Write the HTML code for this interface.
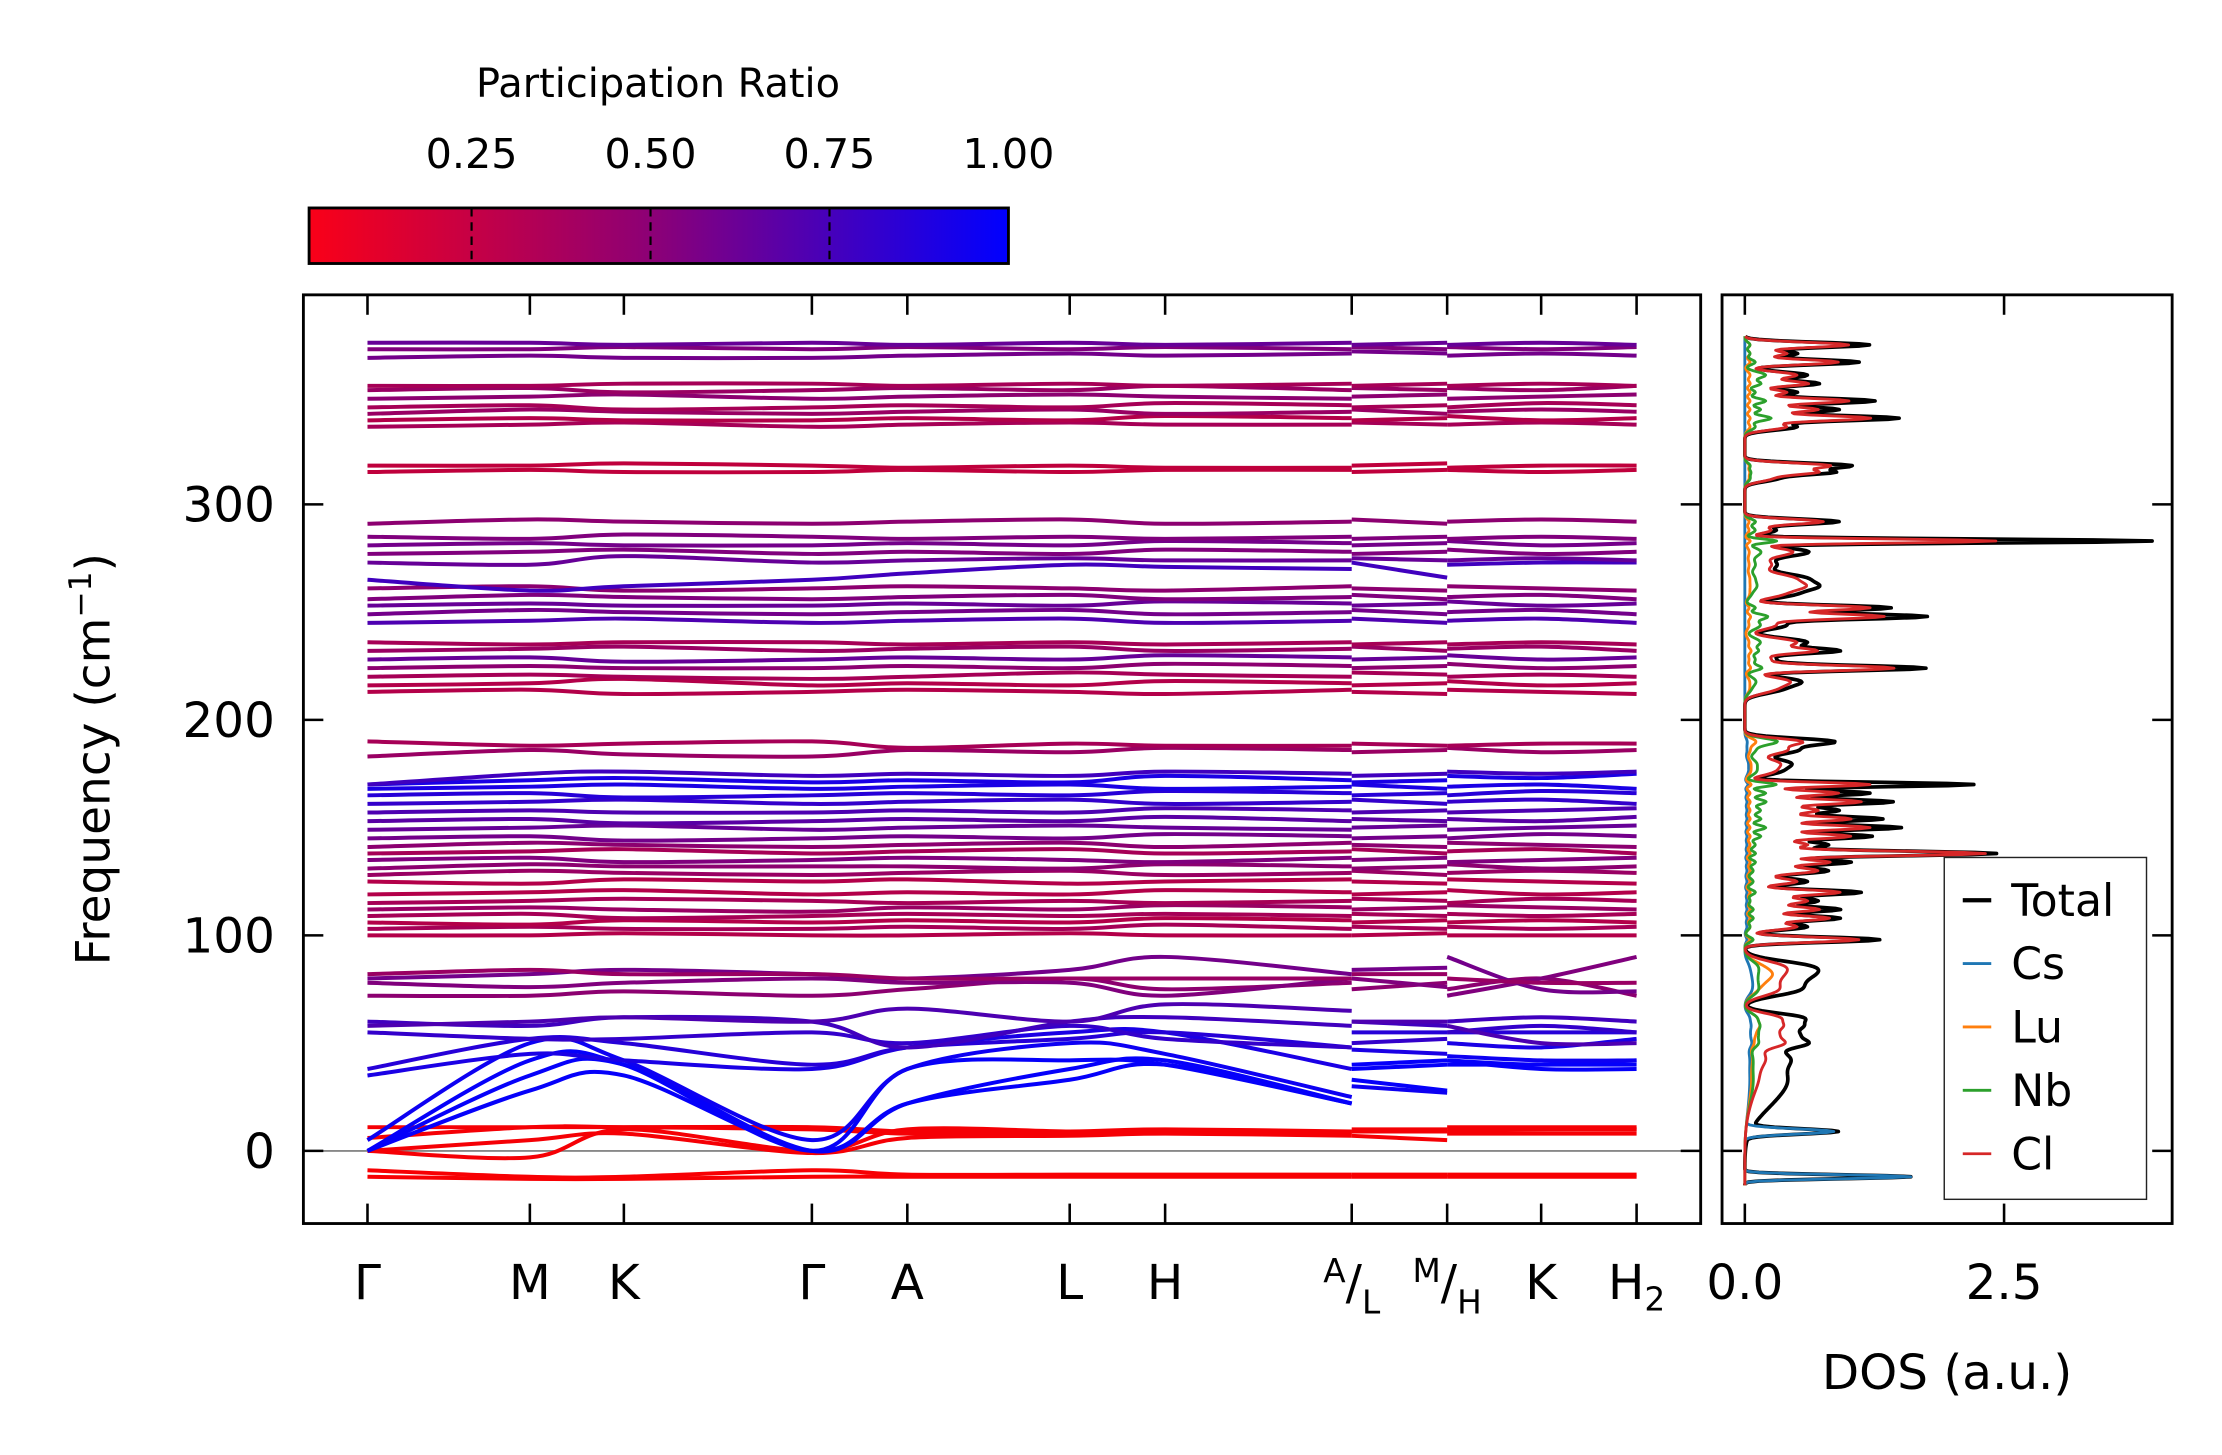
<!DOCTYPE html>
<html><head><meta charset="utf-8"><style>
html,body{margin:0;padding:0;background:#fff;}
svg{display:block;font-family:"DejaVu Sans","Liberation Sans",sans-serif;}
</style></head><body>
<svg id="fig" width="2222" height="1455" viewBox="0 0 1560 1021.5" xmlns="http://www.w3.org/2000/svg">
<defs>
<linearGradient id="cbg" x1="0" x2="1" y1="0" y2="0">
<stop offset="0" stop-color="#fa0018"/><stop offset="0.5" stop-color="#8a0078"/><stop offset="1" stop-color="#0000ff"/>
</linearGradient>
<clipPath id="clipMain"><rect x="213" y="207" width="981" height="652"/></clipPath>
<clipPath id="clipDos"><rect x="1209" y="207" width="316" height="652"/></clipPath>
</defs>
<g id="colorbar">
<text x="462" y="68" font-size="28" text-anchor="middle">Participation Ratio</text>
<rect x="217" y="146" width="491" height="39" fill="url(#cbg)" stroke="#000" stroke-width="2"/>
</g>
<g id="mainAxes"></g>
<g id="dosAxes"></g>
<text transform="translate(77,533) rotate(-90)" font-size="33" text-anchor="middle">Frequency (cm<tspan dy="-13" font-size="22">−1</tspan><tspan dy="13">)</tspan></text>
<text x="1367" y="975" font-size="34" text-anchor="middle">DOS (a.u.)</text>
</svg>
<script>
// ---- data ----
const kLabels = ["Γ","M","K","Γ","A","L","H","A/L","M/H","K","H2"];
const cbTicks = [0.25,0.50,0.75,1.00];
const yTicks = [0,100,200,300];
const dosTicks = [0.0,2.5];
// band values at nodes: Γ M K Γ A L H A | L M | H K H2
const bands = [
[-9,-12,-12,-9,-11,-11,-11,-11,-11,-11,-11,-11,-11],
[-12,-13,-13,-12,-12,-12,-12,-12,-12,-12,-12,-12,-12],
[0,5,8,-1,6,7,8,7,7,5,8,8,8],
[0,-3,10,0,10,9,9,9,9,9,10,10,10],
[6,11,11,10,8,8,9,8,9,9,9,10,10],
[11,11,11,11,9,9,10,9,10,10,11,11,11],
[0,28,35,0,22,33,40,22,33,28,40,40,40],
[0,35,40,0,22,38,42,22,38,40,42,38,38],
[0,42,40,0,38,42,40,22,40,42,42,40,42],
[5,50,42,5,38,50,45,25,30,27,44,42,42],
[35,45,42,38,48,55,55,38,47,45,50,48,52],
[38,52,50,40,48,52,55,48,55,55,55,55,55],
[55,52,52,55,50,58,52,48,50,52,55,58,55],
[60,58,62,60,48,60,62,58,60,58,60,62,60],
[58,60,62,60,66,60,68,65,60,60,58,50,50],
[72,72,74,72,75,80,75,78,75,78,75,80,72],
[78,76,78,80,78,78,72,80,80,76,72,80,90],
[80,82,84,82,80,84,90,82,84,85,90,75,74],
[82,84,82,82,80,80,80,80,82,82,80,78,78],
[100,100,101,100,100,101,100,100,100,101,100,100,100],
[103,104,103,103,104,103,105,103,104,103,104,103,104],
[106,105,107,106,107,106,108,107,106,107,106,107,106],
[109,110,108,109,110,109,110,109,110,109,110,109,110],
[112,113,112,111,113,112,114,113,112,113,114,113,112],
[115,116,117,116,115,116,115,116,117,116,115,117,116],
[119,120,121,119,120,119,121,120,119,120,121,119,120],
[125,124,126,125,126,124,125,126,125,124,126,125,124],
[128,130,129,128,129,130,128,129,130,128,129,130,129],
[131,133,132,132,132,131,133,132,131,132,133,131,132],
[135,136,134,135,136,135,134,136,135,136,134,135,136],
[138,139,140,138,139,140,138,139,140,138,139,140,138],
[141,143,142,141,142,143,141,143,142,141,143,142,141],
[145,146,144,145,146,145,147,146,145,146,145,147,146],
[149,150,151,149,150,151,150,149,150,151,149,150,151],
[153,154,152,153,154,153,155,153,154,153,154,153,155],
[157,158,157,157,158,157,159,158,157,158,157,158,159],
[161,162,163,161,162,163,161,162,163,161,162,163,161],
[165,166,164,165,166,165,167,166,165,166,165,167,166],
[168,169,170,168,169,170,168,169,170,168,169,170,168],
[170,172,173,171,172,171,174,172,171,172,174,173,175],
[170,175,176,174,175,174,176,175,174,175,176,175,176],
[183,186,184,183,186,185,187,186,185,186,187,185,186],
[190,188,189,190,187,189,188,188,189,188,188,189,189],
[213,214,212,213,214,213,212,214,213,212,214,213,212],
[216,217,219,216,217,216,218,217,216,217,218,216,217],
[220,221,220,219,220,222,221,220,222,221,220,221,220],
[224,225,224,224,225,224,226,225,224,225,226,224,225],
[228,229,227,228,229,228,230,229,228,229,230,228,229],
[232,233,234,232,233,234,232,233,234,232,233,234,232],
[236,235,236,236,235,236,235,236,235,236,235,236,235],
[245,246,247,245,246,247,245,246,247,245,246,247,245],
[249,251,250,249,250,251,249,250,251,249,250,251,249],
[253,254,253,253,254,253,255,254,253,254,255,253,254],
[256,258,257,256,257,258,256,257,258,256,257,258,256],
[261,262,260,261,262,261,260,262,261,260,262,261,260],
[265,260,262,265,268,272,271,270,273,266,272,273,273],
[273,272,276,273,274,275,274,274,275,274,274,275,274],
[277,278,279,277,278,277,279,278,277,278,279,277,278],
[281,282,281,281,282,281,283,282,281,282,283,281,282],
[285,284,286,285,284,285,284,285,284,285,284,285,284],
[291,293,292,291,292,293,291,292,293,291,292,293,292],
[315,316,315,315,316,315,316,316,315,316,316,315,316],
[318,318,319,318,317,318,317,317,318,319,317,318,318],
[336,337,338,336,337,338,337,337,338,337,337,338,337],
[339,340,339,339,340,339,341,340,339,340,341,339,340],
[342,344,343,342,343,344,342,343,344,342,343,344,343],
[345,346,344,345,346,345,347,346,345,346,345,347,346],
[349,350,351,349,350,351,350,349,350,351,349,350,351],
[353,354,352,353,354,353,355,353,354,353,354,353,355],
[355,355,356,356,355,356,355,356,355,356,355,356,355],
[368,369,368,368,369,370,369,370,371,370,369,370,369],
[372,372,373,372,373,372,373,372,373,372,373,372,373],
[375,375,374,375,374,375,374,375,374,375,374,375,374]
];
const bandPR = [
0.03,0.03,0.04,0.04,0.04,0.04,0.98,0.98,0.98,0.95,
0.9,0.85,0.8,0.75,0.7,0.45,0.5,0.55,0.4,
0.3,0.35,0.3,0.35,0.4,0.35,0.3,0.3,0.4,0.45,0.5,0.35,0.45,0.55,0.6,0.65,0.7,0.8,0.85,0.9,0.9,0.75,
0.4,0.35,
0.3,0.3,0.35,0.45,0.6,0.4,0.35,
0.7,0.55,0.6,0.5,0.45,0.75,0.6,0.5,0.55,0.5,0.45,
0.25,0.25,
0.35,0.3,0.4,0.35,0.45,0.4,0.35,
0.55,0.5,0.6
];
// DOS peaks
const peakFreq = [374,370,366,360,356,352,348,344,340,336,318,315,312,292,288,283,278,272,266,262,258,252,248,244,236,232,228,224,218,214,190,186,180,176,170,166,162,158,154,150,146,142,138,134,130,125,120,116,112,108,104,98,86,82,78,74,62,58,54,50,44,36,28,20,9,-12];
const totalH = [1.2,0.5,1.1,0.6,0.7,0.5,1.25,0.9,1.47,0.5,1.0,0.8,0.3,0.9,0.3,3.9,0.6,0.3,0.5,0.6,0.4,1.4,1.7,0.4,0.6,0.8,0.3,1.7,0.5,0.3,0.8,0.5,0.4,0.3,2.2,1.2,1.4,0.9,1.3,1.5,1.2,0.8,2.4,1.0,0.8,0.6,1.1,0.7,0.9,0.9,0.6,1.3,0.5,0.45,0.35,0.4,0.5,0.45,0.4,0.45,0.3,0.25,0.2,0.12,0.85,1.6];
const clH = [1.0,0.4,0.9,0.5,0.6,0.4,1.0,0.7,1.2,0.4,0.8,0.65,0.25,0.75,0.25,2.4,0.45,0.25,0.4,0.5,0.3,1.2,1.3,0.3,0.5,0.6,0.25,1.4,0.4,0.25,0.5,0.4,0.3,0.25,1.2,0.9,1.1,0.7,1.0,1.2,1.0,0.6,2.3,0.8,0.7,0.5,0.9,0.6,0.7,0.8,0.5,1.1,0.3,0.25,0.2,0.25,0.3,0.3,0.25,0.3,0.15,0.1,0.05,0.02,0.0,0.0];
const nbH = [0.05,0.05,0.1,0.2,0.15,0.1,0.2,0.15,0.25,0.1,0.05,0.05,0.05,0.1,0.1,0.3,0.15,0.1,0.08,0.1,0.05,0.1,0.2,0.15,0.15,0.1,0.1,0.15,0.1,0.05,0.3,0.1,0.1,0.1,0.3,0.2,0.2,0.15,0.15,0.2,0.15,0.1,0.1,0.1,0.08,0.08,0.1,0.05,0.08,0.08,0.05,0.08,0.1,0.08,0.08,0.1,0.1,0.12,0.1,0.1,0.05,0.05,0.04,0.02,0.0,0.0];
const csH = [0,0,0,0,0,0,0,0,0,0,0,0,0,0,0,0,0,0,0,0,0,0,0,0,0,0,0,0,0,0,0.02,0.02,0.03,0.03,0.03,0.02,0.02,0.02,0.02,0.02,0.02,0.02,0.02,0.02,0.02,0.02,0.02,0.02,0.02,0.02,0.02,0.02,0.03,0.04,0.05,0.05,0.04,0.05,0.04,0.05,0.03,0.03,0.02,0.02,0.85,1.6];
const luH = [0.05,0.05,0.05,0.05,0.05,0.05,0.05,0.05,0.05,0.05,0.04,0.04,0.04,0.04,0.04,0.05,0.04,0.04,0.04,0.04,0.04,0.04,0.05,0.04,0.04,0.05,0.04,0.05,0.04,0.04,0.1,0.05,0.05,0.05,0.06,0.05,0.05,0.05,0.05,0.05,0.05,0.05,0.05,0.05,0.05,0.05,0.05,0.05,0.05,0.05,0.05,0.05,0.12,0.2,0.12,0.08,0.1,0.12,0.08,0.06,0.05,0.04,0.03,0.02,0.0,0.0];
const peakW = [1.2,1.2,1.2,1.5,1.2,1.2,1.2,1.2,1.2,1.5,1.2,1.2,1.5,1.2,1.5,0.9,2,2.5,2,2,2,1.2,1.2,2,2,1.2,2,1.2,2,2,1.5,2,2,2,1.0,1.2,1.2,1.5,1.2,1.2,1.2,1.5,1.1,1.2,1.5,1.5,1.2,1.5,1.2,1.2,1.5,1.2,2.5,2.5,2.5,2.5,2,2,2,2,4,6,7,8,1.2,0.9];

// ---- geometry ----
const M = {l:213,r:1194,t:207,b:859};
const D = {l:1209,r:1525,t:207,b:859};
const kX = [258,372,438,570,637,751,818,949,1016,1082,1149];
function fy(f){return 808 - f*1.513;}
function dx(v){return 1225 + v*72.8;}
function prColor(p){const t=Math.max(0,Math.min(1,(p-0.02)/0.98));return `rgb(${Math.round(250*(1-t))},0,${Math.round(255*t)})`;}
const NS="http://www.w3.org/2000/svg";
const svg=document.getElementById('fig');
function mk(tag,attrs,parent){const e=document.createElementNS(NS,tag);for(const k in attrs)e.setAttribute(k,attrs[k]);(parent||svg).appendChild(e);return e;}

// colorbar ticks
const cbL=217,cbR=708,cbMin=0.023,cbMax=1.0;
cbTicks.forEach(v=>{
  const x=cbL+(v-cbMin)/(cbMax-cbMin)*(cbR-cbL);
  if(v<1){
    const l=mk('line',{x1:x,x2:x,y1:146,y2:185,stroke:'#000','stroke-width':1.5,'stroke-dasharray':'6,4'});
    
    
  }
  const t=mk('text',{x:x,y:118,'font-size':29,'text-anchor':'middle'});
  
  
  t.textContent=v.toFixed(2);
});

const mainG=document.getElementById('mainAxes');
const dosG=document.getElementById('dosAxes');
const zl=mk('line',{x1:M.l,x2:M.r,y1:fy(0),y2:fy(0),stroke:'#888','stroke-width':1.3},mainG);



// bands
const segs=[[0,7,0],[8,9,7],[10,12,8]];
const bandG=mk('g',{'clip-path':'url(#clipMain)'},mainG);
function catmull(pts){
  let d=`M${pts[0][0]},${pts[0][1]}`;
  for(let i=0;i<pts.length-1;i++){
    const p0=pts[i-1]||pts[i],p1=pts[i],p2=pts[i+1],p3=pts[i+2]||p2;
    const c1=[p1[0]+(p2[0]-p0[0])/6,p1[1]+(p2[1]-p0[1])/6];
    const c2=[p2[0]-(p3[0]-p1[0])/6,p2[1]-(p3[1]-p1[1])/6];
    d+=`C${c1[0]},${c1[1]} ${c2[0]},${c2[1]} ${p2[0]},${p2[1]}`;
  }
  return d;
}
bands.forEach((b,bi)=>{
  segs.forEach(s=>{
    const pts=[];
    for(let i=s[0];i<=s[1];i++)pts.push([kX[s[2]+(i-s[0])],fy(b[i])]);
    const p=mk('path',{d:catmull(pts),fill:'none',stroke:prColor(bandPR[bi]),'stroke-width':2.8},bandG);
    
    
  });
});

const mf=mk('rect',{x:M.l,y:M.t,width:M.r-M.l,height:M.b-M.t,fill:'none',stroke:'#000','stroke-width':2},mainG);


kX.forEach((x,i)=>{
  mk('line',{x1:x,x2:x,y1:M.b,y2:M.b-14,stroke:'#000','stroke-width':1.8},mainG);
  mk('line',{x1:x,x2:x,y1:M.t,y2:M.t+14,stroke:'#000','stroke-width':1.8},mainG);
  const t=mk('text',{x:x,y:912,'font-size':34,'text-anchor':'middle'},mainG);
  
  
  const lab=kLabels[i];
  if(lab.includes('/')){
    const [a,b]=lab.split('/');
    t.innerHTML=`<tspan font-size="23" dy="-12">${a}</tspan><tspan dy="12">/</tspan><tspan font-size="23" dy="10">${b}</tspan>`;
  } else if(lab==='H2'){
    t.innerHTML=`H<tspan font-size="23" dy="8">2</tspan>`;
  } else t.textContent=lab;
});
yTicks.forEach(v=>{
  const y=fy(v);
  mk('line',{x1:M.l,x2:M.l+14,y1:y,y2:y,stroke:'#000','stroke-width':1.8},mainG);
  mk('line',{x1:M.r,x2:M.r-14,y1:y,y2:y,stroke:'#000','stroke-width':1.8},mainG);
  mk('line',{x1:D.l,x2:D.l+14,y1:y,y2:y,stroke:'#000','stroke-width':1.8},dosG);
  mk('line',{x1:D.r,x2:D.r-14,y1:y,y2:y,stroke:'#000','stroke-width':1.8},dosG);
  const t=mk('text',{x:193,y:y+12,'font-size':34,'text-anchor':'end'},mainG);
  
  
  t.textContent=v;
});

// DOS
const dosClip=mk('g',{'clip-path':'url(#clipDos)'},dosG);
function dosPath(h,color,w,name){
  let d='';
  for(let f=-16;f<=378;f+=0.5){
    let s=0;
    for(let i=0;i<peakFreq.length;i++){const z=(f-peakFreq[i])/peakW[i];s+=h[i]*Math.exp(-0.5*z*z);}
    d+=(d?'L':'M')+dx(s).toFixed(2)+','+fy(f).toFixed(2);
  }
  const p=mk('path',{d:d,fill:'none',stroke:color,'stroke-width':w,'stroke-linejoin':'round'},dosClip);
  
  
}
dosPath(totalH,'#000',2.6,'dos-total');
dosPath(csH,'#1f77b4',2,'dos-cs');
dosPath(luH,'#ff7f0e',2,'dos-lu');
dosPath(nbH,'#2ca02c',2,'dos-nb');
dosPath(clH,'#d62728',2,'dos-cl');
const df=mk('rect',{x:D.l,y:D.t,width:D.r-D.l,height:D.b-D.t,fill:'none',stroke:'#000','stroke-width':2},dosG);


dosTicks.forEach(v=>{
  const x=dx(v);
  mk('line',{x1:x,x2:x,y1:D.b,y2:D.b-14,stroke:'#000','stroke-width':1.8},dosG);
  mk('line',{x1:x,x2:x,y1:D.t,y2:D.t+14,stroke:'#000','stroke-width':1.8},dosG);
  const t=mk('text',{x:x,y:912,'font-size':34,'text-anchor':'middle'},dosG);
  
  
  t.textContent=v.toFixed(1);
});
const leg=mk('g',{},dosG);


mk('rect',{x:1365,y:602,width:142,height:240,fill:'#fff',stroke:'#222','stroke-width':1},leg);
const legNames=['Total','Cs','Lu','Nb','Cl'];
const legCols=['#000','#1f77b4','#ff7f0e','#2ca02c','#d62728'];
legNames.forEach((n,i)=>{
  const y=632+i*44.5;
  const g=mk('g',{},leg);
  
  
  mk('line',{x1:1378,x2:1398,y1:y,y2:y,stroke:legCols[i],'stroke-width':i===0?3:2},g);
  const t=mk('text',{x:1412,y:y+11,'font-size':31},g);
  t.textContent=n;
});
</script>
</body></html>
